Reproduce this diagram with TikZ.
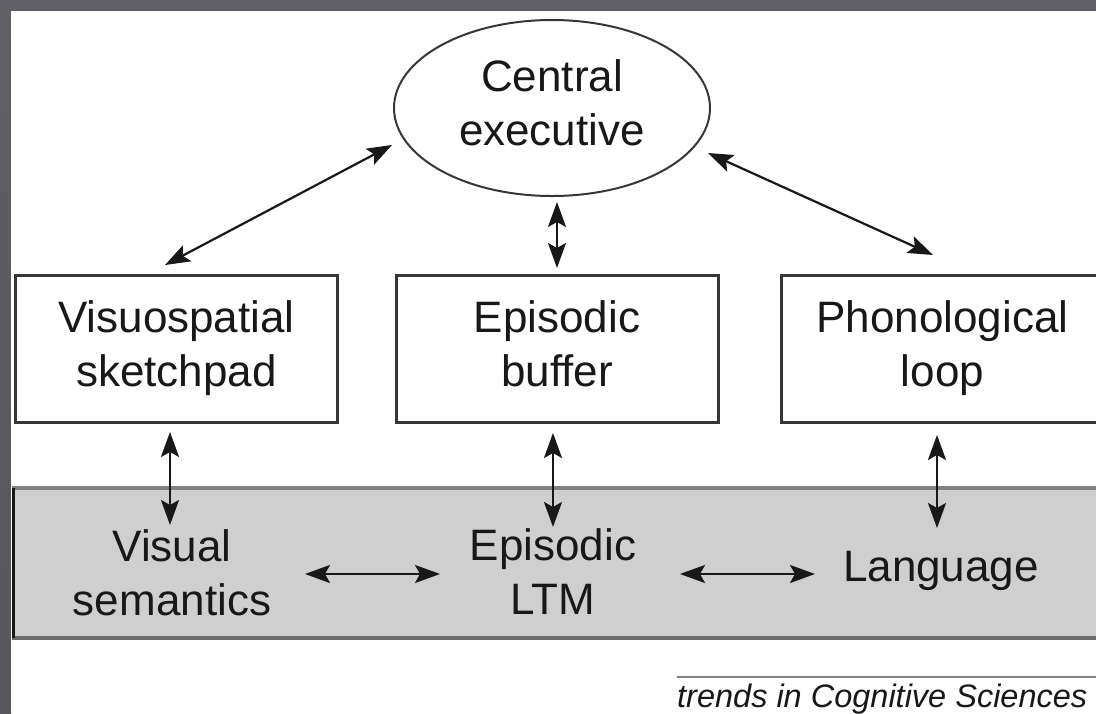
\documentclass[tikz,border=0pt]{standalone}
\usepackage{fontspec}
\setmainfont{Liberation Sans}
\usetikzlibrary{arrows.meta,shapes.geometric}
\definecolor{framegray}{RGB}{96,95,102}
\definecolor{framelight}{RGB}{142,140,148}
\definecolor{bandfill}{RGB}{207,207,207}
\definecolor{bandline}{RGB}{128,128,128}
\definecolor{ink}{RGB}{24,24,24}
\definecolor{boxline}{RGB}{55,55,55}
\begin{document}
\begin{tikzpicture}[x=1pt,y=-1pt,
  lbl/.style={font=\fontsize{44}{54}\selectfont, text=ink, align=center, inner sep=0pt},
  wmbox/.style={lbl, draw=boxline, line width=3pt, fill=white, minimum width=322pt, minimum height=147pt},
  link/.style={draw=ink, line width=2.2pt,
    {Stealth[length=25pt,width=18pt,inset=5pt]}-{Stealth[length=25pt,width=18pt,inset=5pt]}}
]
% frame and page
\path[use as bounding box] (0,0) rectangle (1096,713);
\fill[framegray] (0,0) rectangle (1096,713);
\shade[top color=framegray, middle color=framelight, bottom color=framegray!90!black] (0,0) rectangle (11,713);
\fill[white] (11,11) rectangle (1096,713);

% grey long-term memory band
\node[fill=bandfill, inner sep=0pt, minimum width=1090pt, minimum height=150pt] (band) at (557,563) {};
\draw[bandline, line width=4pt] (12,488) -- (1100,488);
\draw[bandline!85!black, line width=4pt] (12,638) -- (1100,638);
\draw[ink, line width=3pt] (13,488) -- (13,638);

% central executive
\node[lbl, ellipse, draw=boxline, line width=2pt, minimum width=316pt, minimum height=176pt] (ce) at (552,108) {\strut Central\\\strut executive};

% slave systems
\node[wmbox] (vs) at (176.5,348.5) {\strut Visuospatial\\\strut sketchpad};
\node[wmbox] (eb) at (557,348.5) {\strut Episodic\\\strut buffer};
\node[wmbox] (pl) at (942.5,348.5) {\strut Phonological\\\strut loop};

% long-term stores
\node[lbl] (vsem) at (172,578) {\strut Visual\\\strut semantics};
\node[lbl] (eltm) at (553,577) {\strut Episodic\\\strut LTM};
\node[lbl, anchor=base] (lang) at (941,581) {Language};

% connector end points
\coordinate (ceL) at (392,145);
\coordinate (vsT) at (165,265);
\coordinate (ceB) at (557,202);
\coordinate (ebT) at (557,268);
\coordinate (ceR) at (708,153);
\coordinate (plT) at (933,255);
\coordinate (vsB) at (170,432);
\coordinate (vsemT) at (170,525);
\coordinate (ebB) at (553,433);
\coordinate (eltmT) at (553,527);
\coordinate (plB) at (937,435);
\coordinate (langT) at (937,528);
\coordinate (vsemR) at (305,574);
\coordinate (eltmL) at (440,574);
\coordinate (eltmR) at (680,574);
\coordinate (langL) at (815,574);

\draw[link] (vsT) -- (ceL);
\draw[link] (ceB) -- (ebT);
\draw[link] (ceR) -- (plT);
\draw[link] (vsB) -- (vsemT);
\draw[link] (ebB) -- (eltmT);
\draw[link] (plB) -- (langT);
\draw[link] (vsemR) -- (eltmL);
\draw[link] (eltmR) -- (langL);

% source line
\coordinate (ruleL) at (677,677);
\coordinate (ruleR) at (1096,677);
\draw[bandline, line width=1.5pt] (ruleL) -- (ruleR);
\node[anchor=base west, inner sep=0pt, text=ink, font=\fontsize{32.5}{40}\selectfont\itshape] (src) at (677,707) {trends in Cognitive Sciences};
\end{tikzpicture}
\end{document}
